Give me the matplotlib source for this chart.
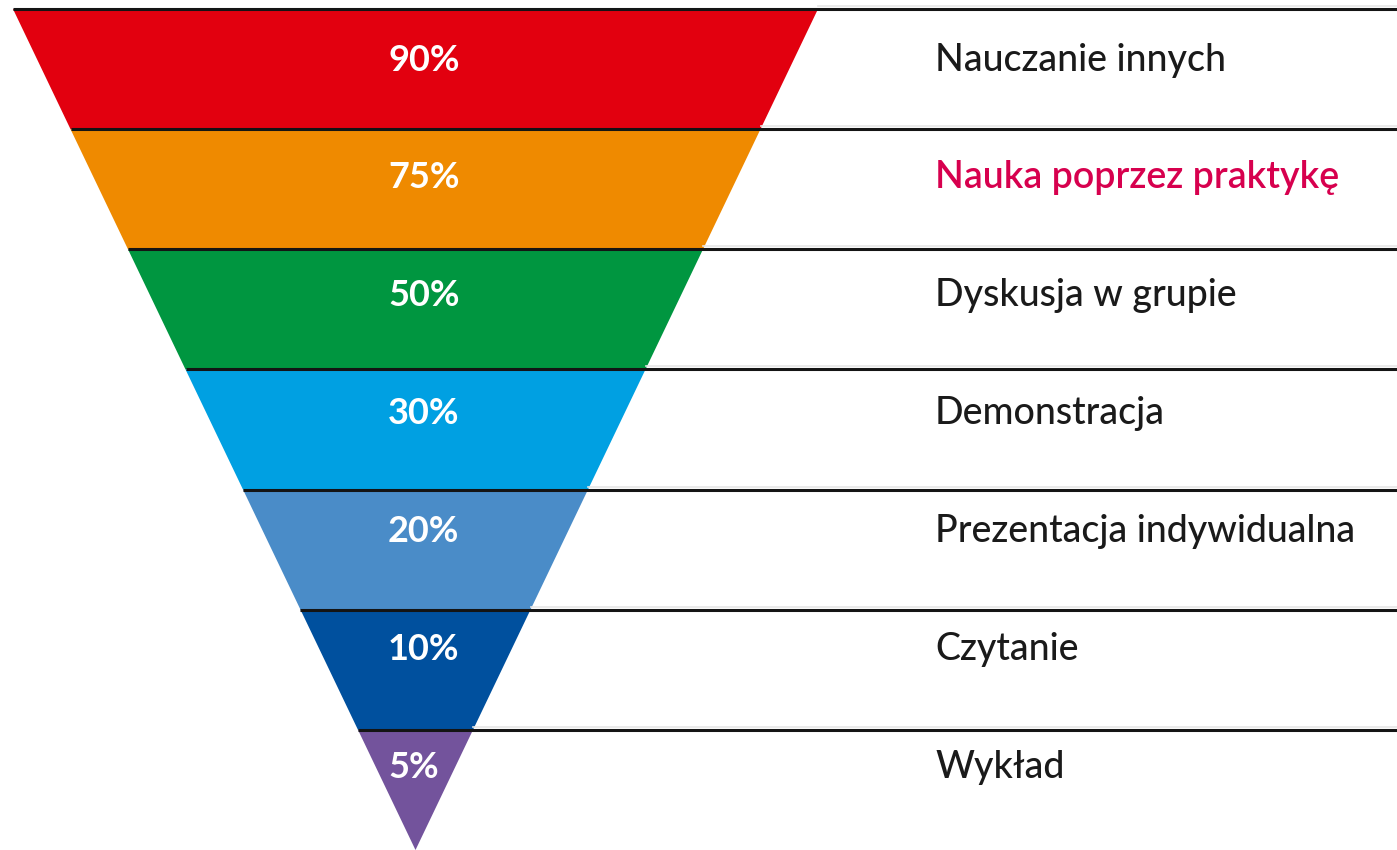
import numpy as np
import matplotlib.pyplot as plt

# data
etykiety = ["Nauczanie innych", "Nauka poprzez praktykę", "Dyskusja w grupie",
            "Demonstracja", "Prezentacja indywidualna", "Czytanie", "Wykład"]
procenty = [90, 75, 50, 30, 20, 10, 5]
kolory = ["#E2000F", "#EF8A00", "#009640", "#00A0E2",
          "#4A8CC8", "#00509E", "#73539C"]
kolory_tekstu = ["#1a1a1a", "#D7004E", "#1a1a1a", "#1a1a1a",
                 "#1a1a1a", "#1a1a1a", "#1a1a1a"]

W, H = 1397, 850
top_y, apex_y = 9, 850
top_left, top_right, apex_x = 13, 818, 415.5
n = len(etykiety)
band_h = (apex_y - top_y) / n

fig = plt.figure(figsize=(W / 100, H / 100), dpi=100)
ax = fig.add_axes([0, 0, 1, 1])
ax.set_xlim(0, W)
ax.set_ylim(H, 0)
ax.axis("off")


def edges(y):
    t = (y - top_y) / (apex_y - top_y)
    return top_left + t * (apex_x - top_left), top_right + t * (apex_x - top_right)


for i in range(n):
    y0 = top_y + i * band_h
    y1 = y0 + band_h
    l0, r0 = edges(y0)
    l1, r1 = edges(y1)
    ax.fill([l0, r0, r1, l1], [y0, y0, y1, y1], color=kolory[i], lw=0, zorder=1)
    ax.plot([l0, W], [y0, y0], color="#141414", lw=2.2, solid_capstyle="butt", zorder=3)
    ax.plot([r0, W], [y0 - 3, y0 - 3], color="#e6e6e6", lw=1.2, zorder=2)

    # text sits a bit above the band middle, drifting up towards the apex
    ty = y0 + 51 - 2.3 * i
    ax.text(388, ty, f"{procenty[i]}%", color="white", fontsize=26,
            fontweight="bold", family="Lato", ha="left", va="center", zorder=4)
    ax.text(935, ty, etykiety[i], color=kolory_tekstu[i], fontsize=27,
            fontweight="semibold" if i == 1 else "medium", family="Lato",
            ha="left", va="center", zorder=4)

fig.savefig("out.png", dpi=100, facecolor="white")
